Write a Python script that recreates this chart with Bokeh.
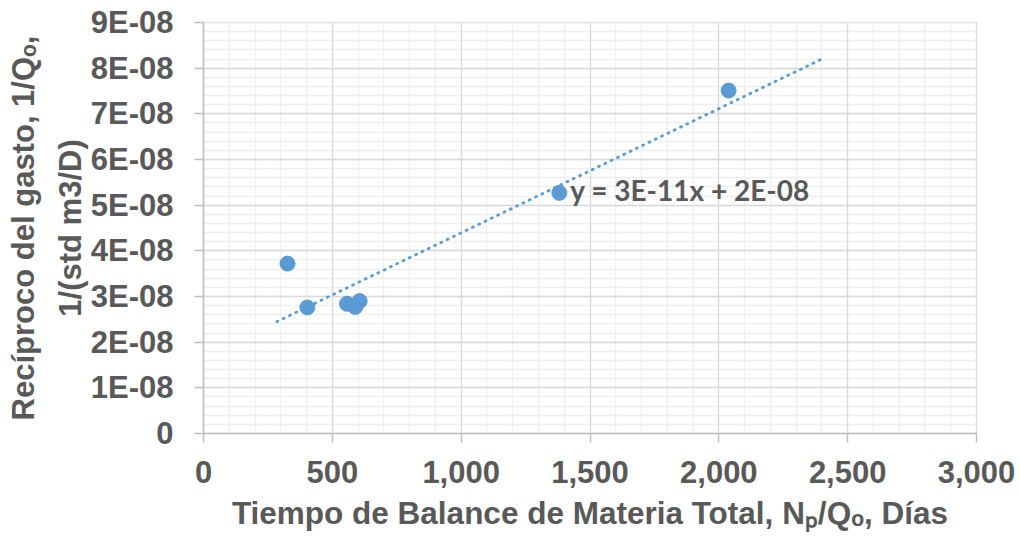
import numpy as np
from bokeh.plotting import figure
from bokeh.models import (Label, FixedTicker, CustomJSTickFormatter,
                          NumeralTickFormatter, Range1d, Grid)
from bokeh.embed import file_html
from bokeh.resources import INLINE

# ---------------- data ----------------
x_days = [326, 403, 557, 589, 606, 1381, 2038]
y_recip = [3.72e-08, 2.76e-08, 2.84e-08, 2.77e-08, 2.90e-08, 5.27e-08, 7.51e-08]
x_ticks = [0, 500, 1000, 1500, 2000, 2500, 3000]
x_minor = list(range(0, 3001, 100))
y_ticks = [0, 1e-08, 2e-08, 3e-08, 4e-08, 5e-08, 6e-08, 7e-08, 8e-08, 9e-08]
y_minor = [k * 2e-09 for k in range(46)]
equation_text = "y = 3E-11x + 2E-08"
trend_x_range = [285, 2395]
x_title = "Tiempo de Balance de Materia Total, N\u209a/Q\u2092, Días"
y_title = "Recíproco del gasto, 1/Q\u2092,\n1/(std m3/D)"

# ---------------- style ----------------
TXT = "#595959"
BLUE = "#5B9BD5"
FONT = "Liberation Sans"
S = "31px"

p = figure(width=1021, height=538, x_range=Range1d(0, 3000), y_range=Range1d(0, 9e-08),
           output_backend="svg", toolbar_location=None,
           min_border_left=203, min_border_right=45, min_border_top=22, min_border_bottom=105)
p.background_fill_color = "white"
p.border_fill_color = "white"
p.outline_line_color = "#d9d9d9"
p.outline_line_width = 1.3

xt = FixedTicker(ticks=x_ticks, minor_ticks=x_minor)
yt = FixedTicker(ticks=y_ticks, minor_ticks=y_minor)
p.xaxis.ticker = xt
p.yaxis.ticker = yt

# minor grids first (default grids), then major grids on top
for g, t in ((p.xgrid, xt), (p.ygrid, yt)):
    g.ticker = t
    g.grid_line_color = None
    g.minor_grid_line_color = "#efefef"
    g.minor_grid_line_width = 1.3
p.add_layout(Grid(dimension=0, ticker=xt, grid_line_color="#d9d9d9", grid_line_width=1.3))
p.add_layout(Grid(dimension=1, ticker=yt, grid_line_color="#d9d9d9", grid_line_width=1.3))

p.xaxis.formatter = NumeralTickFormatter(format="0,0")
p.yaxis.formatter = CustomJSTickFormatter(
    code="if (Math.abs(tick) < 1e-12) { return '0'; } return Math.round(tick * 1e8) + 'E-08';")

for ax in (p.xaxis, p.yaxis):
    ax.axis_line_color = "#bfbfbf"
    ax.axis_line_width = 1.5
    ax.major_tick_line_color = "#bfbfbf"
    ax.major_tick_line_width = 1.5
    ax.major_tick_out = 9
    ax.major_tick_in = 0
    ax.minor_tick_line_color = None
    ax.major_label_text_font = FONT
    ax.major_label_text_font_style = "bold"
    ax.major_label_text_font_size = S
    ax.major_label_text_color = TXT
    ax.axis_label_text_font = FONT
    ax.axis_label_text_font_style = "bold"
    ax.axis_label_text_font_size = S
    ax.axis_label_text_color = TXT
p.xaxis.major_label_standoff = 18
p.yaxis.major_label_standoff = 21
p.xaxis.axis_label = x_title
p.yaxis.axis_label = y_title
p.xaxis.axis_label_text_font_size = "31.5px"
p.xaxis.axis_label_standoff = 9
p.yaxis.axis_label_standoff = 0
p.yaxis.axis_label_text_line_height = 1.33

# trendline (linear least squares through the data)
slope, intercept = np.polyfit(np.array(x_days, float), np.array(y_recip, float), 1)
ty = [intercept + slope * xv for xv in trend_x_range]
p.line(trend_x_range, ty, line_color=BLUE, line_width=2.8, line_dash="1 6", line_cap="round")

p.scatter(x_days, y_recip, size=15, fill_color=BLUE, line_color=BLUE)

p.add_layout(Label(x=x_days[5], y=y_recip[5], x_offset=11, y_offset=3, text=equation_text,
                   text_font="Lato", text_font_style="bold", text_font_size="28px",
                   text_color=TXT, text_baseline="alphabetic", text_align="left"))

open("out.html", "w").write(file_html(p, INLINE))
